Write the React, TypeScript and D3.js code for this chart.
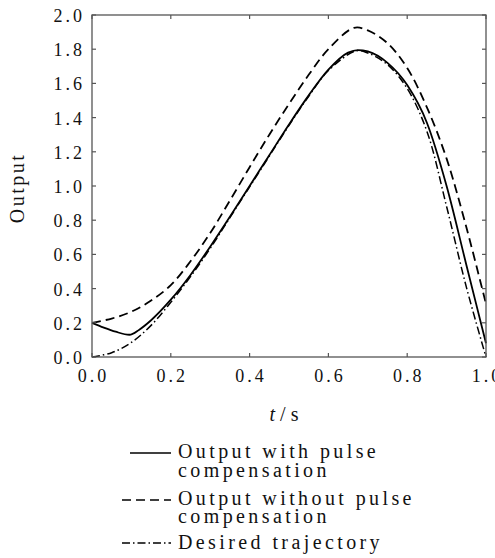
import React from 'react';
import * as d3 from 'd3';

const xTicks = [0, 0.2, 0.4, 0.6, 0.8, 1.0];
const yTicks = [0, 0.2, 0.4, 0.6, 0.8, 1.0, 1.2, 1.4, 1.6, 1.8, 2.0];

const withT = [0, 0.03, 0.06, 0.095, 0.12, 0.15, 0.2, 0.25, 0.3, 0.35, 0.4, 0.45, 0.5, 0.55, 0.6, 0.65, 0.675, 0.7, 0.75, 0.8, 0.85, 0.9, 0.95, 1.0];
const withY = [0.2, 0.172, 0.148, 0.13, 0.16, 0.215, 0.335, 0.48, 0.645, 0.82, 1.0, 1.18, 1.36, 1.53, 1.68, 1.78, 1.795, 1.787, 1.72, 1.59, 1.37, 1.0, 0.54, 0.08];

const withoutT = [0, 0.05, 0.1, 0.15, 0.2, 0.25, 0.3, 0.35, 0.4, 0.45, 0.5, 0.55, 0.6, 0.665, 0.7, 0.75, 0.8, 0.85, 0.9, 0.95, 1.0];
const withoutY = [0.2, 0.225, 0.265, 0.33, 0.42, 0.56, 0.725, 0.915, 1.11, 1.3, 1.48, 1.65, 1.8, 1.925, 1.91, 1.835, 1.69, 1.46, 1.16, 0.76, 0.31];

const desiredT = [0, 0.05, 0.1, 0.15, 0.2, 0.25, 0.3, 0.35, 0.4, 0.45, 0.5, 0.55, 0.6, 0.67, 0.7, 0.75, 0.8, 0.85, 0.9, 0.95, 1.0];
const desiredY = [0, 0.025, 0.085, 0.185, 0.32, 0.47, 0.635, 0.815, 0.995, 1.175, 1.355, 1.525, 1.675, 1.79, 1.778, 1.71, 1.57, 1.32, 0.88, 0.41, 0.0];

const legendLabels = [
  ['Output with pulse', 'compensation'],
  ['Output without pulse', 'compensation'],
  ['Desired trajectory'],
];

const FONT = '"Liberation Serif", "Times New Roman", serif';
const DASH = '9,5';
const DASHDOT = '8,3,1.5,3';

export default function App() {
  const left = 92, right = 486, top = 15, bottom = 357;
  const x = d3.scaleLinear().domain([0, 1]).range([left, right]);
  const y = d3.scaleLinear().domain([0, 2]).range([bottom, top]);
  const smooth = d3
    .line<[number, number]>()
    .x((d) => x(d[0]))
    .y((d) => y(d[1]))
    .curve(d3.curveCatmullRom.alpha(0.5));
  const mono = d3
    .line<[number, number]>()
    .x((d) => x(d[0]))
    .y((d) => y(d[1]))
    .curve(d3.curveMonotoneX);
  const zip = (ts: number[], vs: number[]) => ts.map((t, i) => [t, vs[i]] as [number, number]);
  const axisColor = '#555';
  const tickLen = 4;
  const ls = 3;

  const legendRows = [
    { dash: undefined as string | undefined, y: 453, x1: 130, x2: 171, baselines: [458, 477] },
    { dash: DASH, y: 500, x1: 122, x2: 171, baselines: [505, 523] },
    { dash: DASHDOT, y: 543, x1: 122, x2: 171, baselines: [549] },
  ];

  return (
    <svg width={495} height={558} style={{ position: 'absolute', left: 0, top: 0, background: '#fff' }}>
      <rect x={0} y={0} width={495} height={558} fill="#fff" />
      <path d={smooth(zip(desiredT, desiredY)) || ''} fill="none" stroke="#000" strokeWidth={1.5} strokeDasharray={DASHDOT} />
      <path d={smooth(zip(withoutT, withoutY)) || ''} fill="none" stroke="#000" strokeWidth={1.8} strokeDasharray={DASH} />
      <path d={mono(zip(withT, withY)) || ''} fill="none" stroke="#000" strokeWidth={1.8} />
      <rect x={left} y={top} width={right - left} height={bottom - top} fill="none" stroke={axisColor} strokeWidth={1.3} />
      {xTicks.map((t) => (
        <g key={'xt' + t}>
          <line x1={x(t)} x2={x(t)} y1={bottom} y2={bottom - tickLen} stroke={axisColor} strokeWidth={1.2} />
          <line x1={x(t)} x2={x(t)} y1={top} y2={top + tickLen} stroke={axisColor} strokeWidth={1.2} />
          <text x={x(t) + ls / 2} y={382} textAnchor="middle" fontFamily={FONT} fontSize={18} letterSpacing={ls} fill="#111">
            {t.toFixed(1)}
          </text>
        </g>
      ))}
      {yTicks.map((v) => (
        <g key={'yt' + v}>
          <line x1={left} x2={left + tickLen} y1={y(v)} y2={y(v)} stroke={axisColor} strokeWidth={1.2} />
          <line x1={right} x2={right - tickLen} y1={y(v)} y2={y(v)} stroke={axisColor} strokeWidth={1.2} />
          <text x={85} y={y(v) + 7} textAnchor="end" fontFamily={FONT} fontSize={18} letterSpacing={ls} fill="#111">
            {v.toFixed(1)}
          </text>
        </g>
      ))}
      <text transform="translate(24,188) rotate(-90)" textAnchor="middle" fontFamily={FONT} fontSize={20} letterSpacing={2.5} fill="#111">
        Output
      </text>
      <text x={284} y={421} textAnchor="middle" fontFamily={FONT} fontSize={20} fill="#111">
        <tspan fontStyle="italic">t</tspan>
        <tspan> / s</tspan>
      </text>
      {legendRows.map((r, i) => (
        <g key={'lg' + i}>
          <line x1={r.x1} x2={r.x2} y1={r.y} y2={r.y} stroke="#000" strokeWidth={1.6} strokeDasharray={r.dash} />
          {legendLabels[i].map((txt, j) => (
            <text key={j} x={178} y={r.baselines[j]} fontFamily={FONT} fontSize={20} letterSpacing={3.4} fill="#111">
              {txt}
            </text>
          ))}
        </g>
      ))}
    </svg>
  );
}
